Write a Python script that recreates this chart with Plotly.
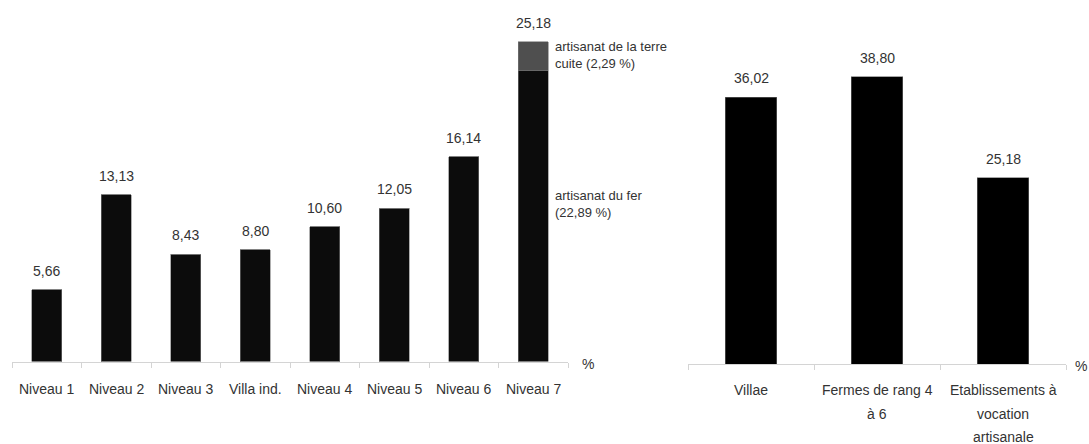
import plotly.graph_objects as go

# ---- data ----
left_categories = ["Niveau 1", "Niveau 2", "Niveau 3", "Villa ind.", "Niveau 4", "Niveau 5", "Niveau 6", "Niveau 7"]
left_values = [5.66, 13.13, 8.43, 8.80, 10.60, 12.05, 16.14, 22.89]
left_top_segment = [0, 0, 0, 0, 0, 0, 0, 2.29]   # artisanat de la terre cuite (Niveau 7)
left_totals = [5.66, 13.13, 8.43, 8.80, 10.60, 12.05, 16.14, 25.18]

right_categories = ["Villae", "Fermes de rang 4 à 6", "Etablissements à vocation artisanale"]
right_label_lines = [["Villae"], ["Fermes de rang 4", "à 6"], ["Etablissements à", "vocation", "artisanale"]]
right_values = [36.02, 38.80, 25.18]

callout_iron = "artisanat du fer<br>(22,89 %)"
callout_clay = "artisanat de la terre<br>cuite (2,29 %)"
unit_label = "%"

# ---- style ----
W, H = 1089, 444
FONT = "Liberation Sans, Arial, sans-serif"
TXT = "#333333"
AXIS = "#d4d4d4"


def fmt(v):
    return f"{v:.2f}".replace(".", ",")


fig = go.Figure()

fig.add_trace(go.Bar(
    x=left_categories, y=left_values, xaxis="x", yaxis="y",
    marker=dict(color="#0c0c0c", line=dict(color="#7a7a7a", width=0.6)),
    width=0.43, showlegend=False, hoverinfo="x+y",
))
fig.add_trace(go.Bar(
    x=left_categories, y=left_top_segment, xaxis="x", yaxis="y",
    marker=dict(color="#4f4f4f", line=dict(color="#7a7a7a", width=0.6)),
    width=0.43, showlegend=False, hoverinfo="x+y",
))
fig.add_trace(go.Bar(
    x=right_categories, y=right_values, xaxis="x2", yaxis="y2",
    marker=dict(color="#000000", line=dict(color="#6a6a6a", width=0.6)),
    width=0.41, showlegend=False, hoverinfo="x+y",
))

annotations = []
# value labels
for c, v in zip(left_categories, left_totals):
    annotations.append(dict(x=c, y=v, xref="x", yref="y", text=fmt(v), showarrow=False,
                            yanchor="middle", yshift=19, font=dict(family=FONT, size=14, color=TXT)))
for c, v in zip(right_categories, right_values):
    annotations.append(dict(x=c, y=v, xref="x2", yref="y2", text=fmt(v), showarrow=False,
                            yanchor="middle", yshift=19, font=dict(family=FONT, size=14, color=TXT)))
# category labels
for c in left_categories:
    annotations.append(dict(x=c, y=0, xref="x", yref="y", text=c, showarrow=False,
                            yanchor="middle", yshift=-27, font=dict(family=FONT, size=14, color=TXT)))
for c, lines in zip(right_categories, right_label_lines):
    for i, ln in enumerate(lines):
        annotations.append(dict(x=c, y=0, xref="x2", yref="y2", text=ln, showarrow=False,
                                yanchor="middle", yshift=-26 - 23.5 * i,
                                font=dict(family=FONT, size=14, color=TXT)))
# unit labels
annotations.append(dict(x=580 / W, y=1 - 364 / H, xref="paper", yref="paper", text=unit_label,
                        showarrow=False, xanchor="left", yanchor="middle",
                        font=dict(family=FONT, size=14, color=TXT)))
annotations.append(dict(x=1073 / W, y=1 - 366 / H, xref="paper", yref="paper", text=unit_label,
                        showarrow=False, xanchor="left", yanchor="middle",
                        font=dict(family=FONT, size=14, color=TXT)))
# callouts
annotations.append(dict(x=553 / W, y=1 - 55 / H, xref="paper", yref="paper", text=callout_clay,
                        showarrow=False, xanchor="left", yanchor="middle", align="left",
                        font=dict(family=FONT, size=13, color=TXT)))
annotations.append(dict(x=553 / W, y=1 - 204 / H, xref="paper", yref="paper", text=callout_iron,
                        showarrow=False, xanchor="left", yanchor="middle", align="left",
                        font=dict(family=FONT, size=13, color=TXT)))

axis_common = dict(showgrid=False, zeroline=False, showline=True, linecolor=AXIS, linewidth=1,
                   ticks="outside", tickson="boundaries", ticklen=5, tickcolor=AXIS,
                   showticklabels=False, fixedrange=True)
yaxis_common = dict(showgrid=False, zeroline=False, showline=False, showticklabels=False,
                    ticks="", fixedrange=True)

fig.update_layout(
    width=W, height=H, autosize=False,
    margin=dict(l=0, r=0, t=0, b=0),
    paper_bgcolor="white", plot_bgcolor="white",
    barmode="stack", bargap=0.57,
    showlegend=False,
    xaxis=dict(domain=[12 / W, 568 / W], range=[-0.5, 7.5], anchor="y", **axis_common),
    yaxis=dict(domain=[1 - 361.5 / H, 1], range=[0, 361.5 / 12.7], anchor="x", **yaxis_common),
    xaxis2=dict(domain=[688 / W, 1066 / W], range=[-0.5, 2.5], anchor="y2", **axis_common),
    yaxis2=dict(domain=[1 - 364 / H, 1], range=[0, 364 / 7.405], anchor="x2", **yaxis_common),
    annotations=annotations,
    font=dict(family=FONT, size=14, color=TXT),
)

fig.write_html(
    "out.html",
    config={"displayModeBar": False},
    post_script="document.body.style.margin='0';document.body.style.overflow='hidden';",
)
